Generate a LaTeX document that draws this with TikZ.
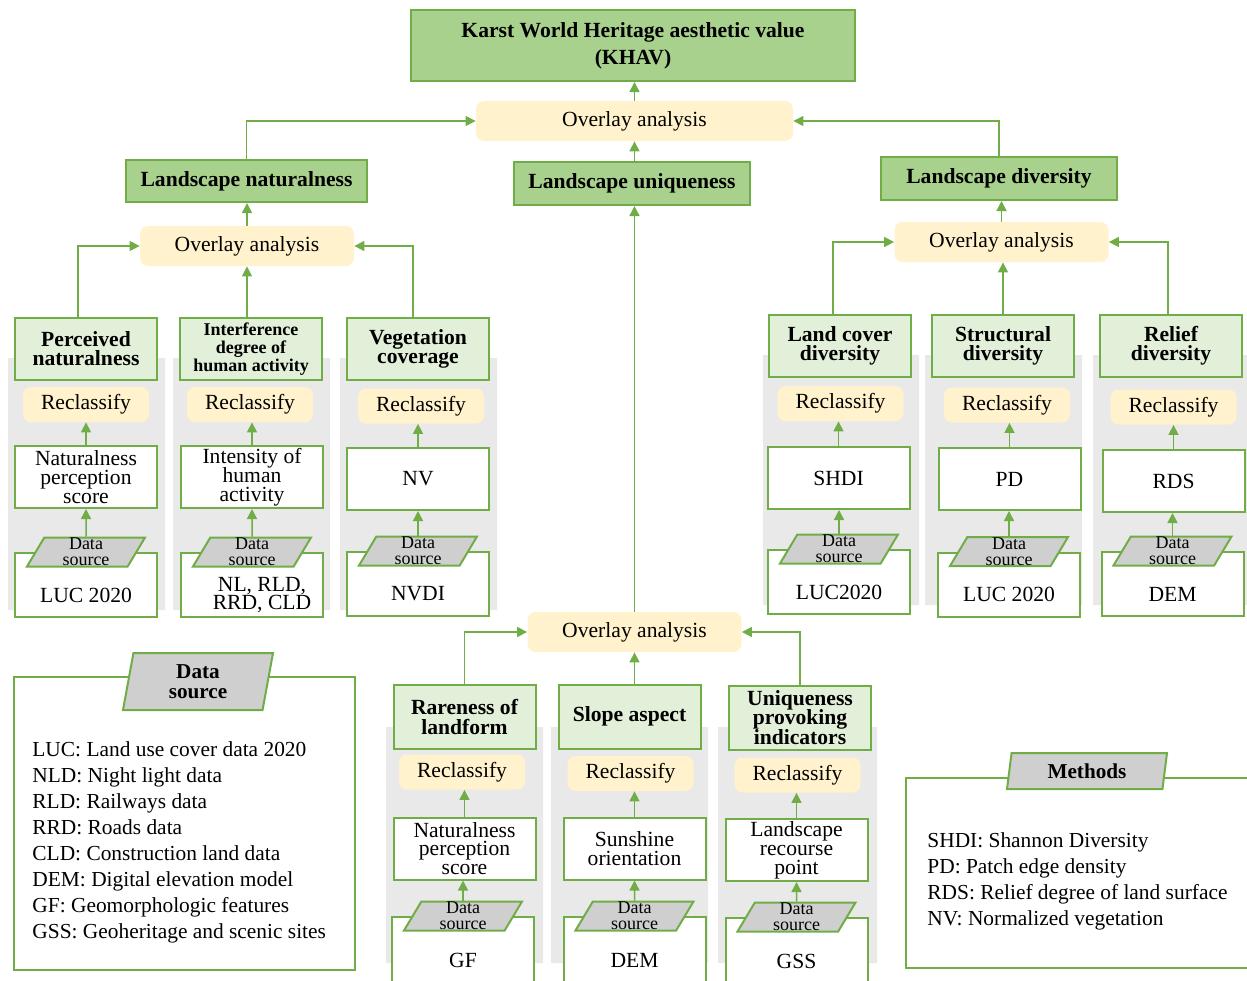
\documentclass[tikz,border=0pt]{standalone}
\usepackage{fontspec}
\setmainfont{Liberation Serif}
\usepackage{tikz}
\usepackage{xcolor}
\usetikzlibrary{arrows.meta,shapes,positioning}

\definecolor{khline}{HTML}{70AD47}
\definecolor{khgreen}{HTML}{A9D18E}
\definecolor{khlight}{HTML}{E2F0D9}
\definecolor{khyellow}{HTML}{FFF2CC}
\definecolor{khpanel}{HTML}{E9E9E9}
\definecolor{khgray}{HTML}{CFCFCF}
\newcommand\khtight{\setlength\lineskiplimit{-9pt}}

\tikzset{
 goal/.style={draw=khline,line width=1pt,fill=khgreen,font=\fontsize{10.8}{13.5}\selectfont\bfseries,align=center,inner sep=0pt},
 crit/.style={draw=khline,line width=1pt,fill=khlight,font=\fontsize{10.8}{9.6}\selectfont\khtight\bfseries,align=center,minimum width=71pt,minimum height=31pt,inner sep=0pt},
 overlay/.style={fill=khyellow,rounded corners=4pt,font=\fontsize{10.8}{13}\selectfont,minimum height=20pt,inner sep=0pt},
 recl/.style={fill=khyellow,rounded corners=4pt,font=\fontsize{10.8}{13}\selectfont,minimum width=63pt,minimum height=17.5pt,inner sep=0pt},
 ind/.style={draw=khline,line width=1pt,fill=white,font=\fontsize{10.8}{9.4}\selectfont\khtight,align=center,minimum width=71pt,minimum height=31pt,inner sep=0pt},
 src/.style={draw=khline,line width=1pt,fill=white,minimum width=71pt,minimum height=32pt,inner sep=0pt},
 srctext/.style={font=\fontsize{10.8}{9.4}\selectfont\khtight,align=center,yshift=-5pt},
 dsrc/.style={trapezium,trapezium left angle=58,trapezium right angle=122,trapezium stretches body,draw=khline,line width=1pt,fill=khgray,font=\fontsize{9}{7.9}\selectfont\khtight,align=center,minimum width=59pt,minimum height=14.5pt,inner sep=0pt},
 legtitle/.style={trapezium,trapezium left angle=73,trapezium right angle=107,trapezium stretches body,draw=khline,line width=1pt,fill=khgray,font=\fontsize{10.6}{10}\selectfont\khtight\bfseries,align=center,inner sep=0pt},
 legbox/.style={draw=khline,line width=1pt},
 legtext/.style={font=\fontsize{10.7}{13}\selectfont,align=left,inner sep=0pt,anchor=north west},
 link/.style={draw=khline,line width=0.75pt,-{Triangle[width=5pt,length=5pt]}},
}

\begin{document}
\begin{tikzpicture}[x=0.5pt,y=-0.5pt]
\useasboundingbox (0,0) rectangle (1247,980);
\fill[khpanel] (8,358) rectangle (165,610) (173,358) rectangle (330,610) (340,358) rectangle (497,610)
 (763,355) rectangle (919,605) (925,355) rectangle (1082,605) (1093,355) rectangle (1247,605)
 (386,727) rectangle (543,963) (551,727) rectangle (708,963) (718,727) rectangle (877,963);

\node[goal,minimum width=222pt,minimum height=35.5pt] (khav) at (633,45.5) {Karst World Heritage aesthetic value\\(KHAV)};
\node[overlay,minimum width=158.5pt] (ovTop) at (634.5,121) {Overlay analysis};
\node[goal,minimum width=120.5pt,minimum height=21pt] (natur) at (246.5,181) {Landscape naturalness};
\node[goal,minimum width=118pt,minimum height=21.5pt] (uniq) at (632,183.5) {Landscape uniqueness};
\node[goal,minimum width=118pt,minimum height=21.5pt] (divers) at (999,178.5) {Landscape diversity};
\node[overlay,minimum width=107pt] (ovNat) at (247,246) {Overlay analysis};
\node[overlay,minimum width=107pt] (ovDiv) at (1001.5,242) {Overlay analysis};
\node[overlay,minimum width=107pt] (ovUni) at (634.5,632) {Overlay analysis};

\node[crit] (perc) at (86,349) {Perceived\\naturalness};
\node[crit,font=\fontsize{9}{9.2}\selectfont\khtight\bfseries] (interf) at (251,349) {Interference\\degree of\\human activity};
\node[crit] (veget) at (418,349) {Vegetation\\coverage};
\node[recl] (recPerc) at (86,404.5) {Reclassify};
\node[recl] (recInterf) at (250,404.5) {Reclassify};
\node[recl] (recVeget) at (421,406) {Reclassify};
\node[ind] (indPerc) at (86,477) {Naturalness\\perception\\score};
\node[ind] (indInterf) at (252,477) {Intensity of\\human\\activity};
\node[ind] (indVeget) at (418,479) {NV};
\node[src,label={[srctext]center:LUC 2020}] (srcPerc) at (86,585) {};
\node[src,label={[srctext,xshift=5pt]center:NL, RLD,\\RRD, CLD}] (srcInterf) at (252,585) {};
\node[src,label={[srctext]center:NVDI}] (srcVeget) at (418,584) {};
\node[dsrc] (dsPerc) at (srcPerc.north) {Data\\source};
\node[dsrc] (dsInterf) at (srcInterf.north) {Data\\source};
\node[dsrc] (dsVeget) at (srcVeget.north) {Data\\source};

\node[crit] (cover) at (840,345.5) {Land cover\\diversity};
\node[crit] (struct) at (1003,345.5) {Structural\\diversity};
\node[crit] (relief) at (1171,345.5) {Relief\\diversity};
\node[recl] (recCover) at (840.5,403.5) {Reclassify};
\node[recl] (recStruct) at (1007,405) {Reclassify};
\node[recl] (recRelief) at (1173.5,407) {Reclassify};
\node[ind] (indCover) at (838.5,478) {SHDI};
\node[ind] (indStruct) at (1009.5,479) {PD};
\node[ind] (indRelief) at (1173.5,481) {RDS};
\node[src,label={[srctext]center:LUC2020}] (srcCover) at (839,582) {};
\node[src,label={[srctext]center:LUC 2020}] (srcStruct) at (1009,584.5) {};
\node[src,label={[srctext]center:DEM}] (srcRelief) at (1172.5,584) {};
\node[dsrc] (dsCover) at (srcCover.north) {Data\\source};
\node[dsrc] (dsStruct) at (srcStruct.north) {Data\\source};
\node[dsrc] (dsRelief) at (srcRelief.north) {Data\\source};

\node[crit,minimum height=32pt] (rare) at (464.5,717) {Rareness of\\landform};
\node[crit,minimum height=32pt] (slope) at (629.5,716.5) {Slope aspect};
\node[crit,minimum height=32pt] (provok) at (800,717.5) {Uniqueness\\provoking\\indicators};
\node[recl] (recRare) at (462,772) {Reclassify};
\node[recl] (recSlope) at (630.5,773.5) {Reclassify};
\node[recl] (recProvok) at (797.5,775) {Reclassify};
\node[ind] (indRare) at (464.5,848.5) {Naturalness\\perception\\score};
\node[ind] (indSlope) at (634.5,848.5) {Sunshine\\orientation};
\node[ind] (indProvok) at (796.5,850) {Landscape\\recourse\\point};
\node[src,minimum height=33pt,label={[srctext]center:GF}] (srcRare) at (463,950) {};
\node[src,minimum height=33pt,label={[srctext]center:DEM}] (srcSlope) at (634.5,950) {};
\node[src,minimum height=33pt,label={[srctext]center:GSS}] (srcProvok) at (796.5,951) {};
\node[dsrc] (dsRare) at (srcRare.north) {Data\\source};
\node[dsrc] (dsSlope) at (srcSlope.north) {Data\\source};
\node[dsrc] (dsProvok) at (srcProvok.north) {Data\\source};

\node[legbox,minimum width=170.5pt,minimum height=146.5pt] (dataLeg) at (184.5,823.5) {};
\node[legtitle,minimum width=75pt,minimum height=28.5pt] (dataTitle) at (198,681.5) {Data\\source};
\node[legtext] (dataText) at (32,741) {LUC: Land use cover data 2020\\NLD: Night light data\\RLD: Railways data\\RRD: Roads data\\CLD: Construction land data\\DEM: Digital elevation model\\GF: Geomorphologic features\\GSS: Geoheritage and scenic sites};
\node[legbox,minimum width=179.5pt,minimum height=95pt] (methLeg) at (1085.5,873) {};
\node[legtitle,minimum width=80pt,minimum height=18pt] (methTitle) at (1087,771) {Methods};
\node[legtext] (methText) at (927,832) {SHDI: Shannon Diversity\\PD: Patch edge density\\RDS: Relief degree of land surface\\NV: Normalized vegetation};

\draw[link] (ovTop.north) -- (ovTop.north |- khav.south);
\draw[link] (ovTop.south |- uniq.north) -- (ovTop.south);
\draw[link] (natur.north) |- (ovTop.west);
\draw[link] (divers.north) |- (ovTop.east);
\draw[link] (ovNat.north) -- (ovNat.north |- natur.south);
\draw[link] (ovDiv.north) -- (ovDiv.north |- divers.south);
\draw[link] (ovUni.north) -- (ovUni.north |- uniq.south);
\draw[link] ([xshift=-4pt]perc.north) |- (ovNat.west);
\draw[link] (ovNat.south |- interf.north) -- (ovNat.south);
\draw[link] ([xshift=-2.5pt]veget.north) |- (ovNat.east);
\draw[link] ([xshift=-3.5pt]cover.north) |- (ovDiv.west);
\draw[link] (struct.north) -- (struct.north |- ovDiv.south);
\draw[link] ([xshift=-1.5pt]relief.north) |- (ovDiv.east);
\draw[link] (rare.north) |- (ovUni.west);
\draw[link] (ovUni.south |- slope.north) -- (ovUni.south);
\draw[link] (provok.north) |- (ovUni.east);
\draw[link] (indPerc) -- (recPerc);
\draw[link] (indInterf.north) -- (indInterf.north |- recInterf.south);
\draw[link] (indVeget.north) -- (indVeget.north |- recVeget.south);
\draw[link] (indCover.north) -- (indCover.north |- recCover.south);
\draw[link] (indStruct.north) -- (indStruct.north |- recStruct.south);
\draw[link] (indRelief) -- (recRelief);
\draw[link] (indRare.north) -- (indRare.north |- recRare.south);
\draw[link] (indSlope.north) -- (indSlope.north |- recSlope.south);
\draw[link] (indProvok.north) -- (indProvok.north |- recProvok.south);
\draw[link] (dsPerc) -- (indPerc);
\draw[link] (dsInterf) -- (indInterf);
\draw[link] (dsVeget) -- (indVeget);
\draw[link] (dsCover.north) -- (dsCover.north |- indCover.south);
\draw[link] (dsStruct.north) -- (dsStruct.north |- indStruct.south);
\draw[link] (dsRelief.north) -- (dsRelief.north |- indRelief.south);
\draw[link] (dsRare.north) -- (dsRare.north |- indRare.south);
\draw[link] (dsSlope) -- (indSlope);
\draw[link] (dsProvok) -- (indProvok);
\end{tikzpicture}
\end{document}
